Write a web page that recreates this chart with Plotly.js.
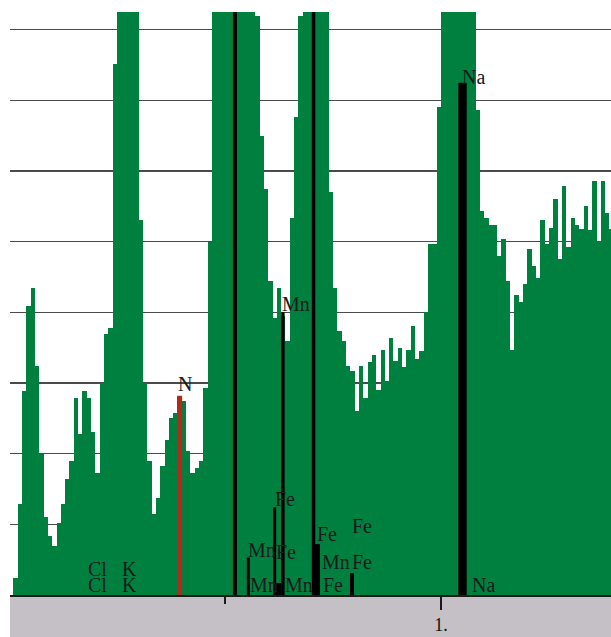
<!DOCTYPE html>
<html>
<head>
<meta charset="utf-8">
<script src="https://cdn.plot.ly/plotly-3.0.1.min.js"></script>
<style>html,body{margin:0;padding:0;background:#fff;}#chart{width:611px;height:637px;}</style>
</head>
<body>
<div id="chart"></div>
<script>
// Spectrum: channel counts (10 eV channels starting at 0 keV), in gridline units
var channelStartKeV = 0.0;
var channelWidthKeV = 0.01;
var counts = [
  0, 0.24, 1.29, 2.89, 4.09, 4.35, 3.24, 2.0, 1.1, 0.84,
  0.69, 1.02, 1.29, 1.64, 1.9, 2.79, 2.28, 2.89, 2.79, 2.3,
  1.73, 3.0, 3.7, 3.78, 7.52, 11, 14, 15, 13, 10,
  5.3, 3.0, 1.9, 1.15, 1.37, 1.83, 2.2, 2.5, 2.58, 2.8,
  2.75, 2.04, 1.73, 1.8, 1.9, 2.93, 4.99, 9.5, 12, 15,
  18, 20, 21, 19, 16, 12, 9.5, 8.2, 6.5, 5.75,
  4.45, 3.92, 4.35, 3.95, 3.6, 5.34, 6.76, 8.2, 10, 12,
  13, 12.5, 11, 9, 5.7, 4.35, 3.74, 3.6, 3.24, 3.17,
  2.6, 3.24, 2.79, 3.3, 3.4, 2.9, 3.46, 3.03, 3.64, 3.31,
  3.5, 3.22, 3.46, 3.81, 3.34, 3.45, 4.0, 4.97, 4.97, 6.9,
  9, 10.5, 12, 13, 13, 12, 10.5, 9, 6.86, 5.44,
  5.34, 5.24, 5.24, 4.8, 5.04, 4.45, 3.46, 4.24, 4.14, 4.4,
  4.89, 4.65, 4.49, 5.3, 4.97, 5.2, 5.6, 4.76, 5.79, 4.92,
  5.34, 5.23, 5.18, 5.51, 5.16, 5.86, 5.01, 5.86, 5.4, 5.18
];

// KLM marker lines
var lineElement = ["N", "O", "Mn", "Fe", "Fe", "Mn", "Fe", "Fe", "Fe", "Na"];
var lineKeV     = [0.395, 0.523, 0.554, 0.615, 0.624, 0.634, 0.705, 0.714, 0.794, 1.0498];
var lineHeight  = [2.82, 9.0, 0.53, 1.24, 0.17, 4.0, 9.0, 0.72, 0.31, 7.25];

// Marker labels
var labelText = ["N","Na","Mn","Fe","Mn","Fe","Mn","Mn","Fe","Mn","Fe","Fe","Fe","Na","Cl","K","Cl","K"];
var labelKeV  = [0.391,1.049,0.632,0.616,0.553,0.618,0.558,0.639,0.727,0.725,0.794,0.713,0.794,1.072,0.183,0.262,0.183,0.262];
var labelY    = [2.87,7.22,4.0,1.24,0.53,0.49,0.024,0.024,0.024,0.35,0.35,0.75,0.87,0.024,0.25,0.25,0.024,0.024];

// Axis ticks
var majorTickVals = [1];
var majorTickText = ["1."];
var minorTickVals = [0.5];

// ---- styles ----
var lineWidths = [5, 4, 3, 3, 5, 3.5, 3.5, 5, 4, 8.4];
var lineColors = lineElement.map(function(e){ return e === "N" ? "#b02a1e" : "#000000"; });

var energies = counts.map(function(_, i){ return channelStartKeV + channelWidthKeV * (i + 0.5); });

var trace = {
  type: "bar",
  x: energies,
  y: counts,
  width: channelWidthKeV,
  marker: { color: "#00803f", line: { width: 0 } },
  hoverinfo: "skip"
};

var shapes = [{
  type: "rect", xref: "paper", yref: "paper",
  x0: 0, x1: 1, y0: -42/583, y1: 0,
  fillcolor: "#c4c0c5", line: { width: 0 }, layer: "below"
}];
lineKeV.forEach(function(e, i){
  shapes.push({
    type: "line", xref: "x", yref: "y",
    x0: e, x1: e, y0: 0, y1: lineHeight[i],
    line: { color: lineColors[i], width: lineWidths[i] },
    layer: "above"
  });
});

var annotations = labelText.map(function(t, i){
  return {
    x: labelKeV[i], y: labelY[i], xref: "x", yref: "y",
    text: t, showarrow: false,
    xanchor: "left", yanchor: "bottom",
    xshift: -2, yshift: -5,
    font: { family: "Liberation Serif, serif", size: 20, color: "#1a1a1a" }
  };
});

var layout = {
  width: 611, height: 637,
  margin: { l: 10, r: 0, t: 12, b: 42, pad: 0 },
  paper_bgcolor: "#ffffff",
  plot_bgcolor: "#ffffff",
  showlegend: false,
  bargap: 0,
  xaxis: {
    range: [1/432, 602/432],
    showgrid: false, zeroline: false,
    showline: true, linecolor: "#1a1a1a", linewidth: 1.5,
    ticks: "outside", tickvals: majorTickVals, ticktext: majorTickText,
    ticklen: 13, tickwidth: 1.5, tickcolor: "#1a1a1a",
    minor: { tickvals: minorTickVals, ticklen: 7, tickwidth: 1.5, tickcolor: "#1a1a1a", showgrid: false },
    tickfont: { family: "Liberation Serif, serif", size: 18, color: "#111" },
    fixedrange: true
  },
  yaxis: {
    range: [0, 8.25],
    dtick: 1, tick0: 0,
    showgrid: true, gridcolor: "#4a4a4a", gridwidth: 1.5,
    zeroline: false, showline: false,
    showticklabels: false, ticks: "",
    fixedrange: true
  },
  shapes: shapes,
  annotations: annotations
};

Plotly.newPlot("chart", [trace], layout, { displayModeBar: false, staticPlot: true });
</script>
</body>
</html>
